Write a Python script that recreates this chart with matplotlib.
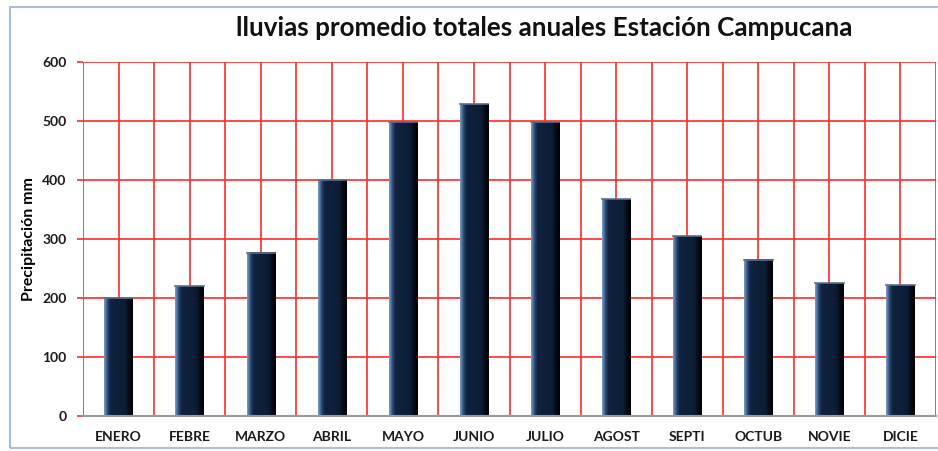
import numpy as np
import matplotlib.pyplot as plt
from matplotlib.colors import LinearSegmentedColormap
from matplotlib.patches import Rectangle

# monthly mean rainfall, Campucana station
meses = ['ENERO', 'FEBRE', 'MARZO', 'ABRIL', 'MAYO', 'JUNIO',
         'JULIO', 'AGOST', 'SEPTI', 'OCTUB', 'NOVIE', 'DICIE']
lluvia = [200, 220, 277, 400, 498, 528, 498, 367, 305, 265, 225, 222]
yticks = [0, 100, 200, 300, 400, 500, 600]

plt.rcParams['font.family'] = ['Lato', 'DejaVu Sans']

fig = plt.figure(figsize=(9.38, 4.51), dpi=100)
ax = fig.add_axes([0.0885, 0.0776, 0.9094, 0.7849])

# frame around the whole chart
fig.patches.append(Rectangle((10 / 938, 3 / 451), 1.0, 441 / 451, transform=fig.transFigure,
                             fill=False, edgecolor='#a9bfd9', linewidth=1.5, zorder=0))

x = np.arange(len(meses))
w = 0.4

# bar shading: light left edge, dark navy body, black right edge
cmap = LinearSegmentedColormap.from_list('barra', [(0, '#7a9cc8'), (0.12, '#2c4a72'), (0.22, '#0f2240'),
                                                   (0.75, '#0c1c34'), (0.88, '#050a14'), (1, '#000000')])
grad = np.linspace(0, 1, 64).reshape(1, -1)
for xi, v in zip(x, lluvia):
    ax.imshow(grad, cmap=cmap, aspect='auto', extent=(xi - w / 2, xi + w / 2, 0, v),
              zorder=3, interpolation='bilinear')
    ax.plot([xi - w / 2, xi + w / 2], [v, v], color='#5d6f88', lw=1.2, zorder=4)

ax.set_xlim(-0.5, len(meses) - 0.5)
ax.set_ylim(0, 600)
ax.set_xticks(x)
ax.set_xticks(np.arange(-0.5, len(meses), 1.0), minor=True)
ax.set_xticklabels(meses, fontsize=10, fontweight='bold', color='#1a1a1a')
ax.set_yticks(yticks)
ax.set_yticklabels([str(t) for t in yticks], fontsize=10, fontweight='bold', color='#1a1a1a')

ax.grid(True, which='both', axis='x', color='#ff2a2a', linewidth=1.2, zorder=1)
ax.grid(True, which='major', axis='y', color='#ff2a2a', linewidth=1.2, zorder=1)
ax.set_axisbelow(True)
ax.tick_params(axis='x', which='both', length=0, pad=11)
ax.tick_params(axis='y', length=4, color='#ff2a2a', width=1.2, pad=8)

for s in ['top', 'right', 'left']:
    ax.spines[s].set_visible(False)
ax.spines['bottom'].set_color('#9a9a9a')
ax.spines['bottom'].set_linewidth(1.5)
ax.spines['bottom'].set_zorder(5)

ax.set_ylabel('Precipitación mm', fontsize=11.5, fontweight='bold', labelpad=4)
fig.text(0.580, 0.938, 'lluvias promedio totales anuales Estación Campucana',
         ha='center', va='center', fontsize=18.7, fontweight='bold', color='#111111')

fig.savefig('out.png', dpi=100)
